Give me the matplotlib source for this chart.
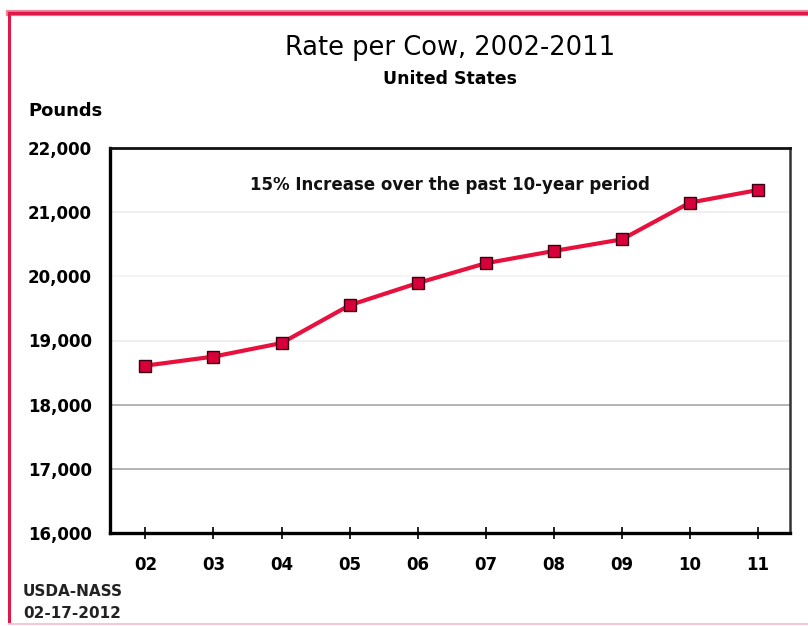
import numpy as np
import matplotlib.pyplot as plt
from matplotlib.lines import Line2D

# milk production per cow, United States
years = ['02', '03', '04', '05', '06', '07', '08', '09', '10', '11']
pounds = [18608, 18749, 18960, 19550, 19895, 20204, 20395, 20576, 21149, 21345]

yticks = [16000, 17000, 18000, 19000, 20000, 21000, 22000]
grid_colors = {17000: '#a8a8a8', 18000: '#a8a8a8', 19000: '#ececec',
               20000: '#f2f2f2', 21000: '#ececec'}
xtick_colors = ['#111111', '#b0b0b0', '#b0b0b0', '#b0b0b0', '#111111',
                '#111111', 'white', 'white', 'white', '#111111']

line_red = '#e8103c'

fig = plt.figure(figsize=(8.08, 6.26), dpi=100)
W, H = 808, 626

# red frame around the whole graphic
fig.add_artist(Line2D([9 / W, 1.0], [1 - 12.5 / H, 1 - 12.5 / H], color='#f08aa0', lw=4.5))
fig.add_artist(Line2D([9 / W, 1.0], [1 - 12.5 / H, 1 - 12.5 / H], color='#e0184a', lw=2.5))
fig.add_artist(Line2D([9 / W, 9 / W], [1 - 12.5 / H, 1 - 623 / H], color='#e0184a', lw=2.2,
                      solid_capstyle='butt'))
fig.add_artist(Line2D([9 / W, 1.0], [1 - 624 / H, 1 - 624 / H], color='#f6c8d4', lw=1.5))

ax = fig.add_axes([110 / W, 1 - 533 / H, (790 - 110) / W, (533 - 148) / H])

x = np.arange(len(years))
for yv, c in grid_colors.items():
    ax.axhline(yv, color=c, lw=1.2, zorder=1)

ax.plot(x, pounds, color=line_red, lw=3, zorder=3,
        marker='s', markersize=8.5, markerfacecolor='#d8003a',
        markeredgecolor='#3a0010', markeredgewidth=1.0)

ax.set_xlim(-0.52, 9.47)
ax.set_ylim(16000, 22000)
ax.set_yticks(yticks)
ax.set_yticklabels([f'{v:,}' for v in yticks], fontsize=12, fontweight='bold')
ax.set_xticks(x)
ax.set_xticklabels(years, fontsize=12, fontweight='bold')
ax.tick_params(axis='y', length=0, pad=13)
ax.tick_params(axis='x', direction='inout', length=9, width=1.2, pad=12)
for t, c in zip(ax.xaxis.get_major_ticks(), xtick_colors):
    t.tick1line.set_color(c)

for side in ['left', 'bottom']:
    ax.spines[side].set_linewidth(2.4)
    ax.spines[side].set_color('black')
ax.spines['top'].set_linewidth(2.0)
ax.spines['top'].set_color('#111111')
ax.spines['right'].set_linewidth(1.8)
ax.spines['right'].set_color('#333333')

ax.text(0.5, 0.905, '15% Increase over the past 10-year period',
        transform=ax.transAxes, ha='center', va='center',
        fontsize=12, fontweight='bold', color='#111111')

fig.text(450 / W, 1 - 48 / H, 'Rate per Cow, 2002-2011', ha='center', va='center',
         fontsize=18.5, color='black')
fig.text(450 / W, 1 - 79 / H, 'United States', ha='center', va='center',
         fontsize=12.5, fontweight='bold', color='black')
fig.text(28 / W, 1 - 111 / H, 'Pounds', ha='left', va='center',
         fontsize=13, fontweight='bold', color='black')
fig.text(23 / W, 1 - 592 / H, 'USDA-NASS', ha='left', va='center',
         fontsize=11, fontweight='bold', color='#222222')
fig.text(23 / W, 1 - 613 / H, '02-17-2012', ha='left', va='center',
         fontsize=11, fontweight='bold', color='#222222')

fig.savefig('out.png', dpi=100)
